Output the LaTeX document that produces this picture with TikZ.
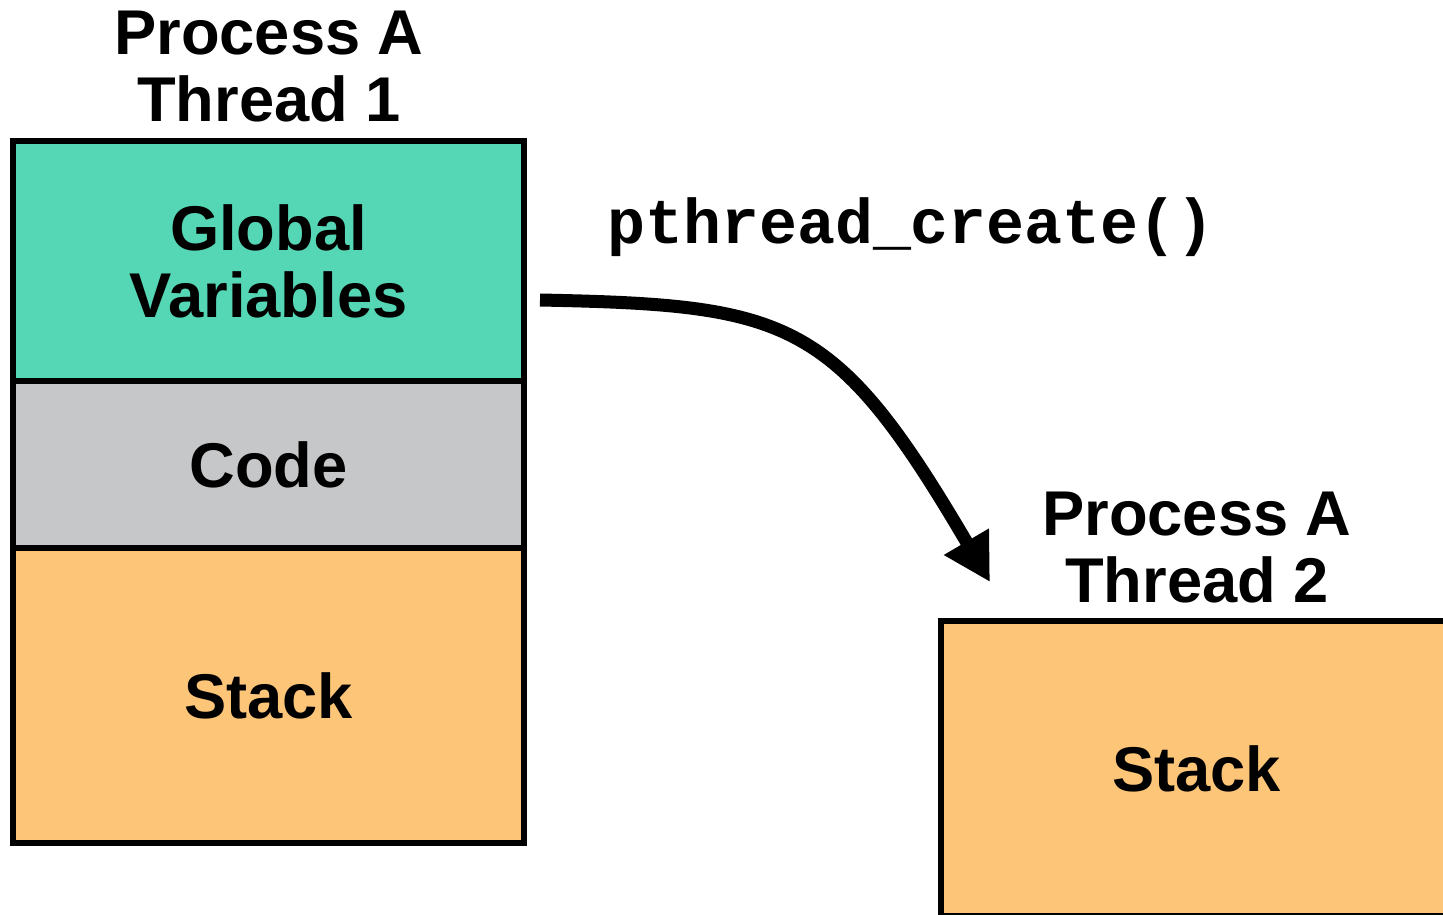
\documentclass[tikz,border=0pt]{standalone}
\usepackage{fontspec}
\setmainfont{Liberation Sans}
\newfontfamily\codefont{Liberation Mono}
\usetikzlibrary{positioning,arrows.meta}
\definecolor{globalcol}{HTML}{55D6B4}
\definecolor{codecol}{HTML}{C6C7C8}
\definecolor{stackcol}{HTML}{FDC578}
\tikzset{
  seg/.style={draw,line width=3.7pt,rectangle,inner sep=0pt,outer sep=0pt,
    minimum width=10.22cm,align=center,font=\fontsize{36}{38}\selectfont\bfseries},
  title/.style={anchor=south,inner sep=0pt,text depth=0pt,align=center,
    font=\fontsize{36}{38}\selectfont\bfseries},
}
\begin{document}
\begin{tikzpicture}[line join=miter,x=0.02cm,y=-0.02cm]
\useasboundingbox (0,0) rectangle (1443,914);
\node[seg,fill=globalcol,minimum height=4.8cm] (glob) at (268.5,261) {Global\\Variables};
\node[seg,fill=codecol,minimum height=3.34cm,below=0pt of glob] (code) {Code};
\node[seg,fill=stackcol,minimum height=5.9cm,below=0pt of code] (stack1) {Stack};
\node[seg,fill=stackcol,minimum height=5.9cm,anchor=north west] (stack2) at (941,621) {Stack};
\node[title] (t1) at (269,122) {Process A\\Thread 1};
\node[title] (t2) at (1197,603) {Process A\\Thread 2};
\node[anchor=base west,inner sep=0pt,font=\fontsize{36}{38}\selectfont\codefont\bfseries] (call) at (607,243) {pthread\_create()};
\coordinate (fork) at (540,300);
\coordinate (tip) at (990,582);
\draw[line width=7.4pt,-{Triangle[length=26.6pt,width=27.8pt]}] (fork) .. controls (790,305) and (835,318) .. (tip);
\end{tikzpicture}
\end{document}
